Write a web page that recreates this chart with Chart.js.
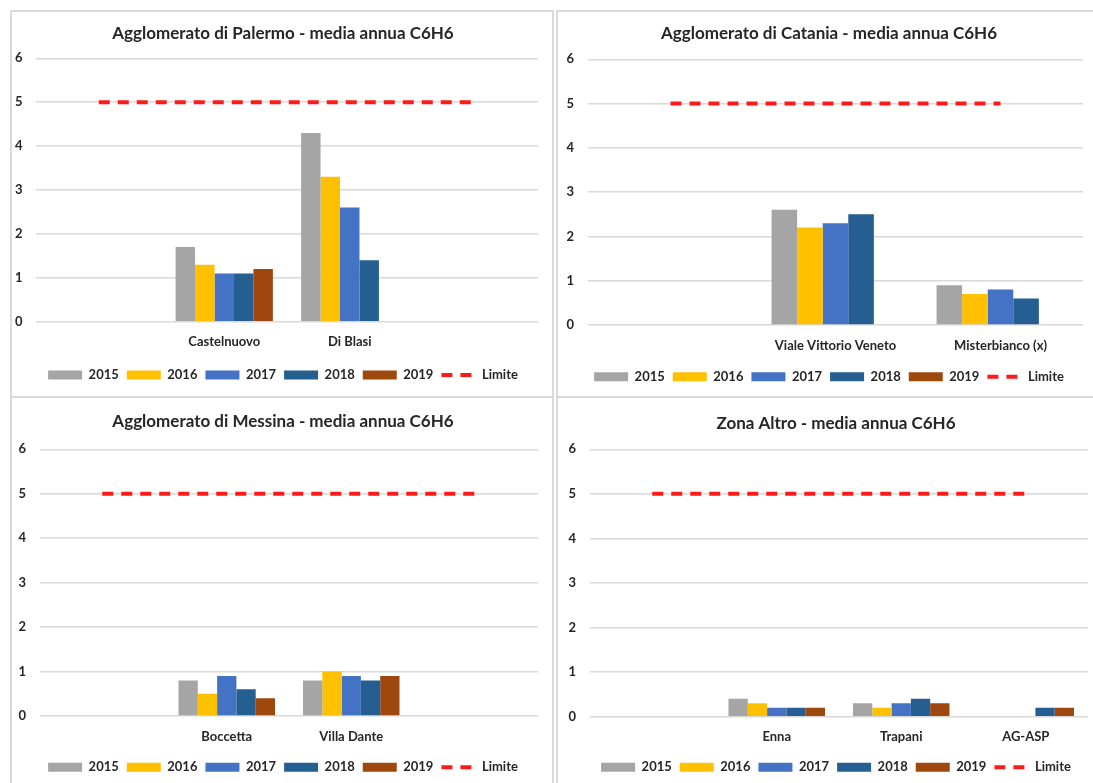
<!DOCTYPE html>
<html lang="it">
<head>
<meta charset="utf-8">
<title>Media annua C6H6</title>
<script src="https://cdn.jsdelivr.net/npm/chart.js@4.4.1/dist/chart.umd.min.js"></script>
<style>
  body { margin: 0; background: #fff; width: 1093px; height: 783px; overflow: hidden; position: relative; }
  .panel { position: absolute; border: 2px solid #d9d9d9; }
  .panel canvas { display: block; }
  #p1 { left: 10px; top: 10px; }
  #p2 { left: 556px; top: 10px; }
  #p3 { left: 10px; top: 396px; }
  #p4 { left: 556px; top: 396px; }
</style>
</head>
<body>
<div class="panel" id="p1"><canvas id="chartPalermo" width="540" height="384"></canvas></div>
<div class="panel" id="p2"><canvas id="chartCatania" width="535" height="384"></canvas></div>
<div class="panel" id="p3"><canvas id="chartMessina" width="540" height="385"></canvas></div>
<div class="panel" id="p4"><canvas id="chartAltro" width="535" height="385"></canvas></div>

<script>
// DATI
const anni = ["2015", "2016", "2017", "2018", "2019"];
const limiteNome = "Limite";

const palermoStazioni = ["", "Castelnuovo", "Di Blasi", ""];
const palermoValori = [
  [null, 1.7, 4.3, null], // 2015
  [null, 1.3, 3.3, null], // 2016
  [null, 1.1, 2.6, null], // 2017
  [null, 1.1, 1.4, null], // 2018
  [null, 1.2, null, null] // 2019
];
const palermoLimite = [5, 5, 5, 5];

const cataniaStazioni = ["", "Viale Vittorio Veneto", "Misterbianco (x)"];
const cataniaValori = [
  [null, 2.6, 0.9],
  [null, 2.2, 0.7],
  [null, 2.3, 0.8],
  [null, 2.5, 0.6],
  [null, null, null]
];
const cataniaLimite = [5, 5, 5];

const messinaStazioni = ["", "Boccetta", "Villa Dante", ""];
const messinaValori = [
  [null, 0.8, 0.8, null],
  [null, 0.5, 1.0, null],
  [null, 0.9, 0.9, null],
  [null, 0.6, 0.8, null],
  [null, 0.4, 0.9, null]
];
const messinaLimite = [5, 5, 5, 5];

const altroStazioni = ["", "Enna", "Trapani", "AG-ASP"];
const altroValori = [
  [null, 0.4, 0.3, null],
  [null, 0.3, 0.2, null],
  [null, 0.2, 0.3, null],
  [null, 0.2, 0.4, 0.2],
  [null, 0.2, 0.3, 0.2]
];
const altroLimite = [5, 5, 5, 5];

// STILE
const coloriAnni = ["#a5a5a5", "#ffc000", "#4472c4", "#255e91", "#9e480e"];
const coloreLimite = "#ff1a1a";
const coloreTesto = "#262626";
const coloreGriglia = "#d9d9d9";
const famiglia = "Lato, 'Open Sans', sans-serif";

// posizione di titolo, area del grafico e legenda dentro ogni riquadro
// (rWidth = asse fittizio a destra, serve solo a centrare titolo e legenda come in Excel)
const geoPalermo = { top: 11.1, titleGap: 14.8, left: 2, right: 0, yWidth: 22, yPad: 13.5, rWidth: 14, xHeight: 38.8, xPad: 12.2, bottom: 4.5 };
const geoCatania = { top: 11.1, titleGap: 15.8, left: 7, right: 0, yWidth: 23, yPad: 14, rWidth: 10, xHeight: 37.2, xPad: 12.9, bottom: 2.8 };
const geoMessina = { top: 13.5, titleGap: 17.4, left: 2, right: 0, yWidth: 26, yPad: 14, rWidth: 14, xHeight: 36.8, xPad: 12.9, bottom: -0.8 };
const geoAltro = { top: 15.1, titleGap: 15.8, left: 0, right: -21, yWidth: 32, yPad: 14, rWidth: 26, xHeight: 36.1, xPad: 12.2, bottom: -0.8 };

Chart.defaults.font.family = famiglia;
Chart.defaults.color = coloreTesto;

// FUNZIONE PER LA LEGENDA: rettangoli per gli anni, trattino rosso per il limite
function LegendLabels(chart) {
  let items = Chart.defaults.plugins.legend.labels.generateLabels(chart);
  items.forEach((el) => {
    if (el.text === limiteNome) {
      el.pointStyle = "line";
      el.lineWidth = 4;
      el.lineDash = [11, 8];
      el.strokeStyle = coloreLimite;
    } else {
      el.pointStyle = "rect";
      el.lineWidth = 0;
    }
  });
  return items;
}

// FUNZIONE PER DISEGNARE UN RIQUADRO
function DrawPanel(_canvasId, _titolo, _stazioni, _valori, _limite, _geo) {
  let datasets = _valori.map((serie, i) => ({
    type: "bar",
    label: anni[i],
    data: serie,
    backgroundColor: coloriAnni[i],
    borderWidth: 0,
    categoryPercentage: 0.775,
    barPercentage: 1
  }));
  datasets.push({
    type: "line",
    label: limiteNome,
    data: _limite,
    borderColor: coloreLimite,
    backgroundColor: coloreLimite,
    borderWidth: 4,
    borderDash: [11, 8],
    pointRadius: 0,
    fill: false
  });

  const config = {
    type: "bar",
    data: { labels: _stazioni, datasets: datasets },
    options: {
      responsive: false,
      animation: false,
      layout: { padding: { top: _geo.top, left: _geo.left, right: _geo.right, bottom: _geo.bottom } },
      plugins: {
        title: {
          display: true,
          text: _titolo,
          color: coloreTesto,
          font: { size: 17, weight: "bold" },
          padding: { top: 0, bottom: _geo.titleGap }
        },
        legend: {
          position: "bottom",
          labels: {
            usePointStyle: true,
            pointStyleWidth: 34,
            boxHeight: 9,
            padding: 8,
            color: coloreTesto,
            font: { size: 13, weight: "bold" },
            generateLabels: LegendLabels
          }
        },
        tooltip: { enabled: false }
      },
      scales: {
        x: {
          grid: { display: false, drawTicks: false },
          border: { display: false },
          ticks: { padding: _geo.xPad, color: coloreTesto, font: { size: 13, weight: "bold" } },
          afterFit: (scale) => { scale.height = _geo.xHeight; }
        },
        y: {
          min: 0,
          max: 6,
          grid: { color: coloreGriglia, lineWidth: 1.5, drawTicks: false },
          border: { display: false },
          ticks: { stepSize: 1, padding: _geo.yPad, color: coloreTesto, font: { size: 13, weight: "bold" } },
          afterFit: (scale) => { scale.width = _geo.yWidth; }
        },
        vuoto: {
          type: "linear",
          position: "right",
          grid: { display: false, drawTicks: false },
          border: { display: false },
          ticks: { display: false },
          afterFit: (scale) => { scale.width = _geo.rWidth; }
        }
      }
    }
  };
  return new Chart(document.getElementById(_canvasId), config);
}

DrawPanel("chartPalermo", "Agglomerato di Palermo - media annua C6H6", palermoStazioni, palermoValori, palermoLimite, geoPalermo);
DrawPanel("chartCatania", "Agglomerato di Catania - media annua C6H6", cataniaStazioni, cataniaValori, cataniaLimite, geoCatania);
DrawPanel("chartMessina", "Agglomerato di Messina - media annua C6H6", messinaStazioni, messinaValori, messinaLimite, geoMessina);
DrawPanel("chartAltro", "Zona Altro - media annua C6H6", altroStazioni, altroValori, altroLimite, geoAltro);
</script>
</body>
</html>
